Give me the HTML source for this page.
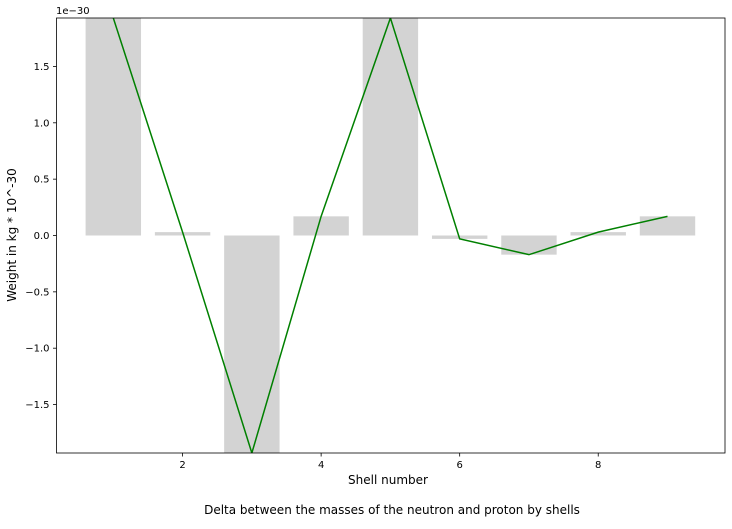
<!DOCTYPE html>
<html><head><meta charset="utf-8"><style>
body{margin:0;background:#fff;font-family:"Liberation Sans","DejaVu Sans",sans-serif}
svg text{font-family:"DejaVu Sans","Liberation Sans",sans-serif}
</style></head><body>
<svg id="c" width="732" height="524"></svg>
<script>
const categories=[1,2,3,4,5,6,7,8,9];
const values=[1.93,0.03,-1.93,0.17,1.93,-0.03,-0.17,0.03,0.17];
const yTicks=[-1.5,-1.0,-0.5,0.0,0.5,1.0,1.5];
const xTicks=[2,4,6,8];
const L=56.5,R=725,T=18,B=453;
const xMin=0.18,xMax=9.83,yMin=-1.93,yMax=1.93;
const xs=v=>L+(v-xMin)/(xMax-xMin)*(R-L);
const ys=v=>B-(v-yMin)/(yMax-yMin)*(B-T);
const svg=document.getElementById('c');const NS='http://www.w3.org/2000/svg';
function mk(t,a,p){const e=document.createElementNS(NS,t);for(const k in a)e.setAttribute(k,a[k]);(p||svg).appendChild(e);return e;}
const defs=mk('defs',{});const cp=mk('clipPath',{id:'cp'},defs);mk('rect',{x:L,y:T,width:R-L,height:B-T},cp);
const g=mk('g',{'clip-path':'url(#cp)'});
categories.forEach((c,i)=>{const y0=ys(0),y1=ys(values[i]);
const r=mk('rect',{x:xs(c-0.4),y:Math.min(y0,y1),width:xs(c+0.4)-xs(c-0.4),height:Math.abs(y1-y0),fill:'#d3d3d3'},g);

});
const pl=mk('polyline',{points:categories.map((c,i)=>xs(c)+','+ys(values[i])).join(' '),fill:'none',stroke:'green','stroke-width':1.5},g);


const fr=mk('rect',{x:L,y:T,width:R-L,height:B-T,fill:'none',stroke:'#000','stroke-width':0.8});


yTicks.forEach(v=>{const y=ys(v);mk('line',{x1:L-3.5,x2:L,y1:y,y2:y,stroke:'#000','stroke-width':0.8});
const t=mk('text',{x:L-7,y:y+3.5,'text-anchor':'end','font-size':10});t.textContent=v.toFixed(1).replace('-','\u2212');

});
xTicks.forEach(v=>{const x=xs(v);mk('line',{x1:x,x2:x,y1:B,y2:B+3.5,stroke:'#000','stroke-width':0.8});
const t=mk('text',{x:x,y:B+15,'text-anchor':'middle','font-size':10});t.textContent=v;

});
</script>
<svg width="732" height="524" style="position:absolute;left:0;top:0">
<text x="56" y="14" font-size="10">1e−30</text>
<text x="388" y="484" font-size="12" text-anchor="middle">Shell number</text>
<text transform="translate(16,235) rotate(-90)" font-size="12" text-anchor="middle">Weight in kg * 10^-30</text>
<text x="392" y="514" font-size="12" text-anchor="middle">Delta between the masses of the neutron and proton by shells</text>
</svg>
</body></html>
